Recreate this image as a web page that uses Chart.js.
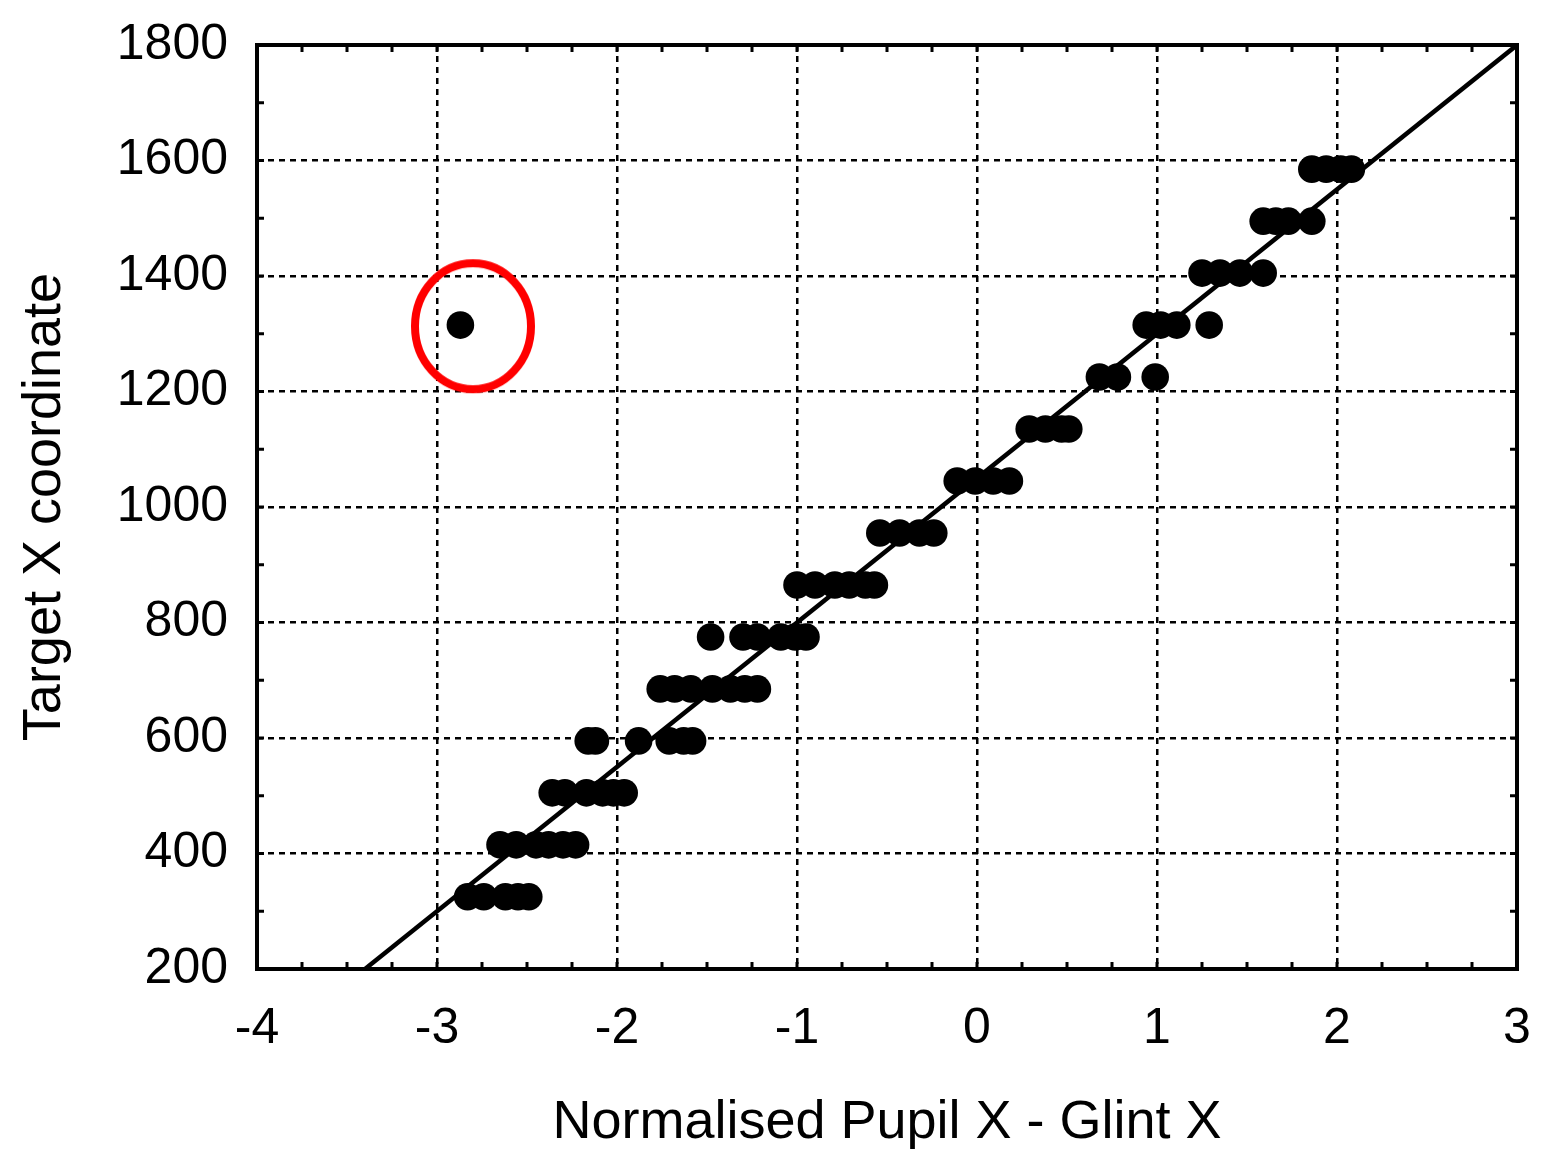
<!DOCTYPE html>
<html>
<head>
<meta charset="utf-8">
<script src="https://cdn.jsdelivr.net/npm/chart.js@4/dist/chart.umd.min.js"></script>
<style>
  html, body { margin: 0; padding: 0; background: #fff; }
  #wrap { width: 1547px; height: 1169px; position: relative; }
</style>
</head>
<body>
<div id="wrap"><canvas id="chart"></canvas></div>
<script>
// target rows (screen X of the calibration target)
const targetRows = [325, 415, 505, 595, 685, 775, 865, 955, 1045, 1135, 1225, 1315, 1405, 1495, 1585];

// normalised pupil - glint X measured for each target row
const pupilRow325 = [-2.83, -2.74, -2.62, -2.55, -2.49];
const pupilRow415 = [-2.65, -2.56, -2.45, -2.38, -2.30, -2.23];
const pupilRow505 = [-2.36, -2.29, -2.17, -2.08, -2.02, -1.96];
const pupilRow595 = [-2.16, -2.12, -1.88, -1.71, -1.63, -1.58];
const pupilRow685 = [-1.76, -1.68, -1.59, -1.47, -1.37, -1.29, -1.22];
const pupilRow775 = [-1.48, -1.30, -1.22, -1.09, -1.01, -0.95];
const pupilRow865 = [-1.00, -0.90, -0.79, -0.71, -0.62, -0.57];
const pupilRow955 = [-0.54, -0.43, -0.32, -0.24];
const pupilRow1045 = [-0.11, -0.01, 0.09, 0.18];
const pupilRow1135 = [0.29, 0.38, 0.47, 0.51];
const pupilRow1225 = [0.68, 0.78, 0.99];
const pupilRow1315 = [0.94, 1.02, 1.11, 1.29];
const pupilRow1405 = [1.25, 1.35, 1.46, 1.59];
const pupilRow1495 = [1.59, 1.66, 1.73, 1.86];
const pupilRow1585 = [1.86, 1.94, 2.02, 2.08];

// the stray sample that is circled
const outlierX = [-2.87];
const outlierY = [1315];

// fitted line end points
const fitX = [-3.4, 3];
const fitY = [200, 1800];

// highlight ring centre
const ringX = [-2.8];
const ringY = [1313];

const pupilRows = [pupilRow325, pupilRow415, pupilRow505, pupilRow595, pupilRow685,
  pupilRow775, pupilRow865, pupilRow955, pupilRow1045, pupilRow1135, pupilRow1225,
  pupilRow1315, pupilRow1405, pupilRow1495, pupilRow1585];

const samples = [];
pupilRows.forEach((row, i) => {
  row.forEach(x => samples.push({ x: x, y: targetRows[i] }));
});
outlierX.forEach((x, i) => samples.push({ x: x, y: outlierY[i] }));

// red ellipse used as point style for the highlight
function makeRing() {
  const c = document.createElement('canvas');
  c.width = 128;
  c.height = 138;
  const g = c.getContext('2d');
  g.strokeStyle = '#ff0000';
  g.lineWidth = 8;
  g.beginPath();
  g.ellipse(64, 69, 58, 63, 0, 0, Math.PI * 2);
  g.stroke();
  return c;
}

const isMajor = v => Math.abs(v - Math.round(v)) < 1e-6;

// fixed axis boxes, no extra room for overhanging labels
function fixBox(s, size) {
  if (s.isHorizontal()) s.height = size; else s.width = size;
  s.paddingTop = 0;
  s.paddingBottom = 0;
  s.paddingLeft = 0;
  s.paddingRight = 0;
}

// frame and inward tick marks
const framePlugin = {
  id: 'frame',
  afterDraw(chart) {
    const { ctx, chartArea: a, scales } = chart;
    ctx.save();
    ctx.strokeStyle = '#000';
    ctx.lineWidth = 3;
    ctx.beginPath();
    scales.x.ticks.forEach(t => {
      const px = scales.x.getPixelForValue(t.value);
      ctx.moveTo(px, a.bottom); ctx.lineTo(px, a.bottom - 7);
      ctx.moveTo(px, a.top); ctx.lineTo(px, a.top + 7);
    });
    scales.y.ticks.forEach(t => {
      const py = scales.y.getPixelForValue(t.value);
      ctx.moveTo(a.left, py); ctx.lineTo(a.left + 7, py);
      ctx.moveTo(a.right, py); ctx.lineTo(a.right - 7, py);
    });
    ctx.stroke();
    ctx.lineWidth = 4;
    ctx.strokeRect(a.left, a.top, a.right - a.left, a.bottom - a.top);
    ctx.restore();
  }
};

Chart.defaults.font.family = '"Liberation Sans", Arial, sans-serif';
Chart.defaults.color = '#000';

new Chart(document.getElementById('chart').getContext('2d'), {
  type: 'scatter',
  data: {
    datasets: [{
      label: 'fit',
      type: 'line',
      data: fitX.map((x, i) => ({ x: x, y: fitY[i] })),
      borderColor: '#000',
      borderWidth: 4.5,
      pointRadius: 0,
      fill: false
    }, {
      label: 'samples',
      data: samples,
      backgroundColor: '#000',
      borderWidth: 0,
      pointRadius: 13.8,
      pointHoverRadius: 13.8
    }, {
      label: 'ring',
      data: ringX.map((x, i) => ({ x: x, y: ringY[i] })),
      pointStyle: makeRing(),
      clip: false
    }]
  },
  options: {
    responsive: true,
    maintainAspectRatio: false,
    devicePixelRatio: 1,
    animation: false,
    events: [],
    layout: { padding: { top: 45, right: 30, left: 0, bottom: 0 } },
    plugins: {
      legend: { display: false },
      tooltip: { enabled: false }
    },
    scales: {
      x: {
        type: 'linear',
        min: -4,
        max: 3,
        afterFit: s => fixBox(s, 200),
        grid: {
          drawTicks: false,
          lineWidth: 2.5,
          color: c => isMajor(c.tick.value) ? '#000' : 'rgba(0,0,0,0)'
        },
        border: { display: false, dash: [6, 5] },
        ticks: {
          stepSize: 0.25,
          padding: 30,
          autoSkip: false,
          maxRotation: 0,
          font: { size: 50 },
          callback: v => isMajor(v) ? String(Math.round(v)) : ''
        },
        title: {
          display: true,
          text: 'Normalised Pupil X - Glint X',
          font: { size: 54 },
          padding: { top: 0, bottom: 13 }
        }
      },
      y: {
        type: 'linear',
        min: 200,
        max: 1800,
        afterFit: s => fixBox(s, 257),
        grid: {
          drawTicks: false,
          lineWidth: 2.5,
          color: c => c.tick.value % 200 === 0 ? '#000' : 'rgba(0,0,0,0)'
        },
        border: { display: false, dash: [6, 5] },
        ticks: {
          stepSize: 100,
          padding: 29,
          autoSkip: false,
          font: { size: 50 },
          callback: v => v % 200 === 0 ? String(v) : ''
        },
        title: {
          display: true,
          text: 'Target X coordinate',
          font: { size: 54 },
          padding: { top: 13, bottom: 0 }
        }
      }
    }
  },
  plugins: [framePlugin]
});
</script>
</body>
</html>
